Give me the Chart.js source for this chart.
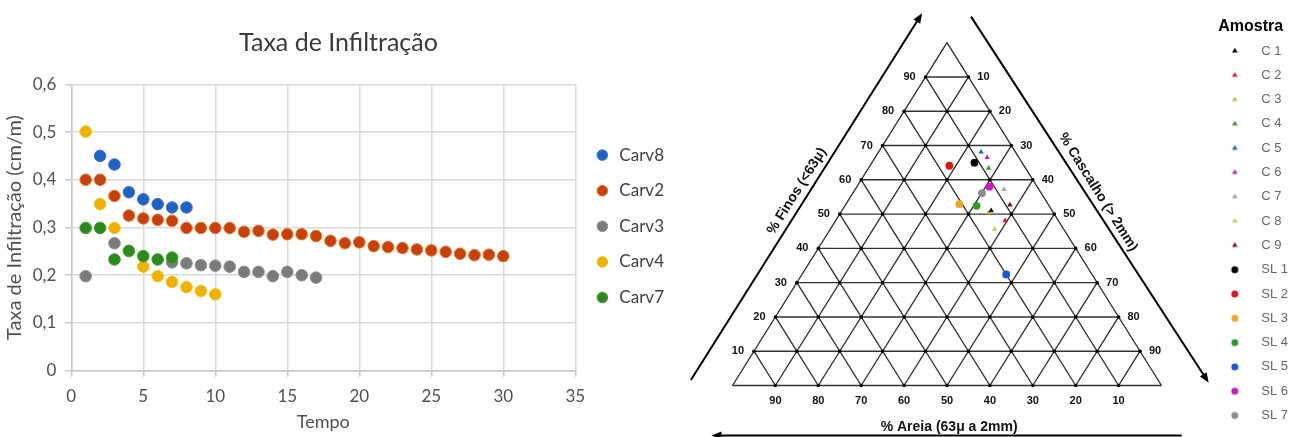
<!DOCTYPE html>
<html lang="pt">
<head>
<meta charset="utf-8">
<title>Taxa de Infiltração e diagrama ternário</title>
<script src="https://cdn.jsdelivr.net/npm/chart.js@4.4.1/dist/chart.umd.min.js"></script>
<style>
  html, body { margin:0; padding:0; background:#fff; }
  body { width:1298px; height:437px; position:relative; overflow:hidden; }
  canvas { position:absolute; top:0; }
  #infiltracao { left:0; }
  #ternario { left:674px; }
</style>
</head>
<body>
<canvas id="infiltracao" width="674" height="437"></canvas>
<canvas id="ternario" width="624" height="437"></canvas>
<script>
// ================= LEFT CHART DATA =================
const tempo = [1,2,3,4,5,6,7,8,9,10,11,12,13,14,15,16,17,18,19,20,21,22,23,24,25,26,27,28,29,30];
const carv8 = [null,0.450,0.432,0.374,0.359,0.349,0.342,0.342,null,null,null,null,null,null,null,null,null,null,null,null,null,null,null,null,null,null,null,null,null,null];
const carv2 = [0.400,0.400,0.366,0.325,0.319,0.316,0.314,0.299,0.299,0.299,0.299,0.291,0.293,0.285,0.286,0.286,0.282,0.272,0.267,0.269,0.261,0.259,0.257,0.254,0.252,0.249,0.245,0.242,0.243,0.240];
const carv3 = [0.198,null,0.267,null,null,null,0.227,0.225,0.221,0.220,0.218,0.207,0.207,0.198,0.207,0.200,0.195,null,null,null,null,null,null,null,null,null,null,null,null,null];
const carv4 = [0.501,0.349,0.299,null,0.218,0.198,0.186,0.175,0.167,0.160,null,null,null,null,null,null,null,null,null,null,null,null,null,null,null,null,null,null,null,null];
const carv7 = [0.299,0.299,0.233,0.251,0.240,0.233,0.237,null,null,null,null,null,null,null,null,null,null,null,null,null,null,null,null,null,null,null,null,null,null,null];
const serieNomes = ['Carv8','Carv2','Carv3','Carv4','Carv7'];
const rotulosY = ['0','0,1','0,2','0,3','0,4','0,5','0,6'];

// ================= RIGHT CHART DATA (ternary, %) =================
const amostras = ['C 1','C 2','C 3','C 4','C 5','C 6','C 7','C 8','C 9','SL 1','SL 2','SL 3','SL 4','SL 5','SL 6','SL 7'];
const finos    = [51.0, 48.1, 50.4, 63.4, 68.1, 66.5, 57.2, 45.6, 52.7, 65.0, 64.1, 52.9, 52.4, 32.4, 58.0, 56.1];
const cascalho = [34.8, 39.5, 34.4, 28.0, 23.9, 26.1, 34.7, 38.3, 38.3, 23.9, 18.5, 26.4, 30.7, 47.6, 30.9, 30.1];
const areia    = [14.2, 12.4, 15.2,  8.6,  8.0,  7.4,  8.1, 16.1,  9.0, 11.1, 17.4, 20.7, 16.9, 20.0, 11.1, 13.8];
const gradeValores = [0,10,20,30,40,50,60,70,80,90];
const eixoTicks = [10,20,30,40,50,60,70,80,90];

// ================= LEFT CHART =================
const coresCarv = ['#1f62c4','#c8400e','#7b7b7b','#f0b000','#2a8a1e'];
const bordasCarv = ['#3a78d2','#e8761c','#8e8e8e','#f7c31a','#3f9c2f'];
const ordemDesenho = [5,4,3,2,1];
function pares(vals) {
  return vals.map((v, i) => v == null ? null : { x: tempo[i], y: v }).filter(Boolean);
}
const seriesCarv = [carv8, carv2, carv3, carv4, carv7];
const FONT_L = 'Lato';

new Chart(document.getElementById('infiltracao'), {
  type: 'scatter',
  data: {
    datasets: seriesCarv.map((s, i) => ({
      label: serieNomes[i],
      data: pares(s),
      backgroundColor: coresCarv[i],
      borderColor: bordasCarv[i],
      borderWidth: 1,
      pointRadius: 5.8,
      pointHoverRadius: 5.8,
      order: ordemDesenho[i]
    }))
  },
  options: {
    responsive: false,
    animation: false,
    devicePixelRatio: 1,
    layout: { padding: { top: 19.6, bottom: 4, left: 3, right: 0 } },
    plugins: {
      title: {
        display: true, text: 'Taxa de Infiltração', color: '#3a3a3a',
        font: { family: FONT_L, size: 25, weight: 'normal' },
        padding: { top: 8.7, bottom: 26 }
      },
      legend: {
        position: 'right', align: 'center',
        labels: {
          usePointStyle: true, pointStyle: 'circle',
          boxWidth: 17, boxHeight: 7.5, padding: 18.6,
          color: '#404040', font: { family: FONT_L, size: 17 },
          sort: (a, b) => a.datasetIndex - b.datasetIndex
        }
      },
      tooltip: { enabled: false }
    },
    scales: {
      x: {
        type: 'linear', min: 0, max: 35,
        ticks: { stepSize: 5, padding: 9.8, color: '#505050', font: { family: FONT_L, size: 17 } },
        grid: { color: '#d9d9d9', lineWidth: 1.5, tickLength: 6, tickColor: '#c8c8c8' },
        border: { color: '#c8c8c8', width: 1.5 },
        title: { display: true, text: 'Tempo', color: '#505050', font: { family: FONT_L, size: 18 }, padding: { top: -5.3, bottom: 0 } }
      },
      y: {
        type: 'linear', min: 0, max: 0.6,
        ticks: { stepSize: 0.1, padding: 9, color: '#505050', font: { family: FONT_L, size: 17 },
                 callback: (v) => rotulosY[Math.round(v * 10)] },
        grid: { color: '#d9d9d9', lineWidth: 1.5, tickLength: 6, tickColor: '#c8c8c8' },
        border: { color: '#c8c8c8', width: 1.5 },
        title: { display: true, text: 'Taxa de Infiltração (cm/m)', color: '#505050', font: { family: FONT_L, size: 20 }, padding: { top: 0, bottom: -3.3 } }
      }
    }
  }
});

// ================= RIGHT CHART (ternary) =================
const coresAmostra = ['#000000','#d42020','#e8ae20','#3a9e2e','#1f5fd6','#c81cbc','#a4a4a4','#a8e03a','#8a0c1c',
                      '#000000','#e0141c','#f2a51e','#2f9f24','#1a55d8','#cc18c0','#8c8c8c'];
const FONT_R = '"Liberation Sans", Arial, sans-serif';
// composition -> plane coordinates (bottom-left = 100% areia, bottom-right = 100% cascalho, apex = 100% finos)
const tern = (f, c) => ({ x: c + f / 2, y: f });

function linhasGrade(tipo) {
  const d = [];
  gradeValores.forEach(v => {
    let a, b;
    if (tipo === 'F') { a = tern(v, 0); b = tern(v, 100 - v); }
    else if (tipo === 'C') { a = tern(0, v); b = tern(100 - v, v); }
    else { a = tern(0, 100 - v); b = tern(100 - v, 0); }
    d.push(a, b, { x: null, y: null });
  });
  return d;
}
function nosGrade() {
  const d = [];
  gradeValores.forEach(f => {
    gradeValores.concat([100]).forEach(c => {
      if (f + c <= 100 && !(f === 0 && (c === 0 || c === 100))) d.push(tern(f, c));
    });
  });
  return d;
}
function imagemMarcador(estilo, cor, r) {
  const c = document.createElement('canvas'); c.width = 12; c.height = 12;
  const g = c.getContext('2d'); g.fillStyle = cor; g.strokeStyle = cor;
  if (Chart.helpers && Chart.helpers.drawPoint) {
    Chart.helpers.drawPoint(g, { pointStyle: estilo, radius: r, borderWidth: 0, rotation: 0 }, 6, 6);
  } else {
    g.beginPath();
    if (estilo === 'circle') g.arc(6, 6, r, 0, Math.PI * 2);
    else { g.moveTo(6, 6 - r); g.lineTo(6 + r * 0.866, 6 + r / 2); g.lineTo(6 - r * 0.866, 6 + r / 2); g.closePath(); }
    g.fill();
  }
  return c;
}
const ehTriangulo = amostras.map(n => n.startsWith('C'));
const imagensLegenda = amostras.map((n, i) => imagemMarcador(ehTriangulo[i] ? 'triangle' : 'circle', coresAmostra[i], ehTriangulo[i] ? 3.2 : 3.5));

const datasetsAmostras = amostras.map((n, i) => ({
  type: 'scatter',
  label: n,
  data: [tern(finos[i], cascalho[i])],
  pointStyle: ehTriangulo[i] ? 'triangle' : 'circle',
  pointRadius: ehTriangulo[i] ? 3.1 : 3.9,
  pointHoverRadius: ehTriangulo[i] ? 3.1 : 3.9,
  backgroundColor: coresAmostra[i],
  borderColor: coresAmostra[i],
  borderWidth: 0,
  clip: false,
  order: 0
}));
const datasetsGrade = ['F', 'C', 'A'].map(t => ({
  type: 'line', label: '_grade' + t, data: linhasGrade(t),
  borderColor: '#333333', borderWidth: 1.4, pointRadius: 0, pointHoverRadius: 0,
  spanGaps: false, fill: false, tension: 0, clip: false, order: 10
}));
const datasetNos = {
  type: 'scatter', label: '_nos', data: nosGrade(),
  pointRadius: 1.8, pointHoverRadius: 1.8, backgroundColor: '#000', borderWidth: 0, clip: false, order: 5
};

// triangle corners in canvas pixels (layout of the diagram)
const TRI = { left: 58.5, right: 487.5, top: 42.7, bottom: 385.5 };
// decorative arrows in plane coordinates
const setas = [
  { de: [-9.7, 1.6], para: [44.2, 108.6] },
  { de: [55.6, 107.6], para: [111.0, 0.8] },
  { de: [104.7, -14.6], para: [-4.9, -14.6] }
];
const titulosEixos = [
  { texto: '% Finos (<63\u03bc)', pos: [15.0, 56.7], rot: 'esq' },
  { texto: '% Cascalho (> 2mm)', pos: [85.2, 56.4], rot: 'dir' },
  { texto: '% Areia (63\u03bc a 2mm)', pos: [50.5, -12.1], rot: 'h' }
];

const pluginTernario = {
  id: 'ternario',
  afterLayout(chart) {
    const xs = chart.scales.x, ys = chart.scales.y;
    const ux = (TRI.right - TRI.left) / 100, uy = (TRI.bottom - TRI.top) / 100;
    xs.min = (xs.left - TRI.left) / ux; xs.max = (xs.right - TRI.left) / ux;
    ys.min = (TRI.bottom - ys.bottom) / uy; ys.max = (TRI.bottom - ys.top) / uy;
    xs.configure(); ys.configure();
  },
  afterDraw(chart) {
    const ctx = chart.ctx, xs = chart.scales.x, ys = chart.scales.y;
    const P = (a, b) => [xs.getPixelForValue(a), ys.getPixelForValue(b)];
    ctx.save();
    ctx.fillStyle = '#111';
    ctx.font = 'bold 11px ' + FONT_R;
    ctx.textAlign = 'center'; ctx.textBaseline = 'middle';
    eixoTicks.forEach(v => {
      let p = P(v / 2, v); ctx.fillText(String(v), p[0] - 16, p[1]);
      p = P(100 - v / 2, v); ctx.fillText(String(100 - v), p[0] + 15, p[1]);
      p = P(100 - v, 0); ctx.fillText(String(v), p[0], p[1] + 15);
    });
    // arrows
    ctx.strokeStyle = '#000'; ctx.fillStyle = '#000'; ctx.lineWidth = 2;
    setas.forEach(s => {
      const a = P(s.de[0], s.de[1]), b = P(s.para[0], s.para[1]);
      const ang = Math.atan2(b[1] - a[1], b[0] - a[0]);
      const L = 10, W = 4;
      ctx.beginPath(); ctx.moveTo(a[0], a[1]);
      ctx.lineTo(b[0] - Math.cos(ang) * L * 0.8, b[1] - Math.sin(ang) * L * 0.8); ctx.stroke();
      ctx.beginPath();
      ctx.moveTo(b[0], b[1]);
      ctx.lineTo(b[0] - Math.cos(ang) * L + Math.sin(ang) * W, b[1] - Math.sin(ang) * L - Math.cos(ang) * W);
      ctx.lineTo(b[0] - Math.cos(ang) * L - Math.sin(ang) * W, b[1] - Math.sin(ang) * L + Math.cos(ang) * W);
      ctx.closePath(); ctx.fill();
    });
    // axis titles
    const b0 = P(0, 0), ap = P(50, 100);
    const angEsq = Math.atan2(ap[1] - b0[1], ap[0] - b0[0]);
    ctx.font = 'bold 14px ' + FONT_R;
    ctx.fillStyle = '#111';
    titulosEixos.forEach(t => {
      const p = P(t.pos[0], t.pos[1]);
      const r = t.rot === 'esq' ? angEsq : (t.rot === 'dir' ? -angEsq : 0);
      ctx.save(); ctx.translate(p[0], p[1]); ctx.rotate(r);
      ctx.fillText(t.texto, 0, 0); ctx.restore();
    });
    ctx.restore();
  }
};

new Chart(document.getElementById('ternario'), {
  type: 'scatter',
  data: { datasets: datasetsAmostras.concat([datasetNos], datasetsGrade) },
  options: {
    responsive: false,
    animation: false,
    devicePixelRatio: 1,
    layout: { padding: { top: 18.7, bottom: 0, left: 0, right: 0 } },
    scales: {
      x: { type: 'linear', display: false, min: 0, max: 100 },
      y: { type: 'linear', display: false, min: 0, max: 100 }
    },
    plugins: {
      tooltip: { enabled: false },
      legend: {
        position: 'right', align: 'start',
        title: { display: true, text: 'Amostra', color: '#000', position: 'center',
                 font: { family: FONT_R, size: 16, weight: 'bold', lineHeight: 1 },
                 padding: { top: 0, bottom: -1.5 } },
        labels: {
          usePointStyle: true, pointStyleWidth: 40, padding: 11.3,
          color: '#666', font: { family: FONT_R, size: 13 },
          generateLabels(chart) {
            const itens = Chart.defaults.plugins.legend.labels.generateLabels(chart);
            return itens.filter(it => it.datasetIndex < amostras.length)
                        .map(it => Object.assign({}, it, { pointStyle: imagensLegenda[it.datasetIndex] }));
          },
          sort: (a, b) => a.datasetIndex - b.datasetIndex
        }
      }
    }
  },
  plugins: [pluginTernario]
});
</script>
</body>
</html>
